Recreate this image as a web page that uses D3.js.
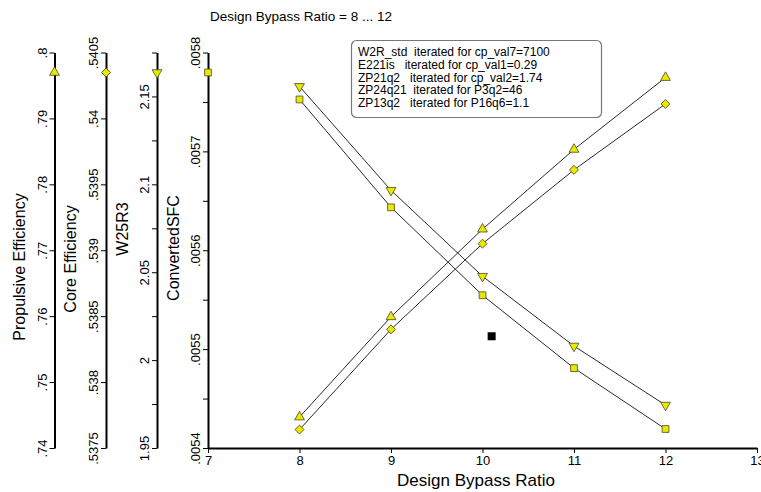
<!DOCTYPE html>
<html>
<head>
<meta charset="utf-8">
<script src="https://cdn.jsdelivr.net/npm/d3@7"></script>
<style>
  html, body { margin: 0; padding: 0; background: #fff; }
  svg { display: block; font-family: "Liberation Sans", Arial, sans-serif; }
</style>
</head>
<body>
<svg id="chart" width="761" height="492"></svg>
<script>
// Parameter study: design bypass ratio 8 ... 12
const bypassRatio   = [8, 9, 10, 11, 12];
const propulsiveEff = [0.7447, 0.7599, 0.7732, 0.7853, 0.7962];
const coreEff       = [0.53764, 0.53840, 0.53905, 0.53961, 0.54011];
const w25r3         = [2.1557, 2.0966, 2.0477, 2.0080, 1.9744];
const convertedSFC  = [0.0057525, 0.0056434, 0.0055545, 0.0054808, 0.0054192];

// design-point values shown on each axis
const refPropulsive = 0.79697;
const refCore       = 0.540348;
const refW25R3      = 2.1636;
const refSFC        = 0.0057798;

// single highlighted operating point (bypass ratio, ConvertedSFC)
const extraPoint = [10.1, 0.005513];

const xTicks      = [7, 8, 9, 10, 11, 12, 13];
const propTicks   = [0.74, 0.75, 0.76, 0.77, 0.78, 0.79, 0.80];
const coreTicks   = [0.5375, 0.538, 0.5385, 0.539, 0.5395, 0.54, 0.5405];
const w25Ticks    = [1.95, 1.975, 2.0, 2.025, 2.05, 2.075, 2.1, 2.125, 2.15, 2.175];
const w25Labels   = [1.95, 2.0, 2.05, 2.1, 2.15];
const sfcTicks    = [0.0054, 0.00545, 0.0055, 0.00555, 0.0056, 0.00565, 0.0057, 0.00575, 0.0058];
const sfcLabels   = [0.0054, 0.0055, 0.0056, 0.0057, 0.0058];

const legendLines = [
  "W2R_std  iterated for cp_val7=7100",
  "E221is   iterated for cp_val1=0.29",
  "ZP21q2   iterated for cp_val2=1.74",
  "ZP24q21  iterated for P3q2=46",
  "ZP13q2   iterated for P16q6=1.1"
];

const svg = d3.select("#chart");
const yBottom = 448, yTop = 52.5;
const xLeft = 208, xRight = 757;

const x = d3.scaleLinear().domain([7, 13]).range([xLeft, xRight]);
const yProp = d3.scaleLinear().domain([0.74, 0.80]).range([yBottom, yTop]);
const yCore = d3.scaleLinear().domain([0.5375, 0.5405]).range([yBottom, yTop]);
const yW25  = d3.scaleLinear().domain([1.95, 2.175]).range([yBottom, yTop]);
const ySFC  = d3.scaleLinear().domain([0.0054, 0.0058]).range([yBottom, yTop]);

const fmt = v => String(+v.toFixed(5)).replace(/^0\./, ".");

const fill = "#e8e800", edge = "#4a4a20";

// vertical axes: position, scale, ticks, labelled ticks, title, title centre
const axes = [
  { x: 54.5,  scale: yProp, ticks: propTicks, labels: propTicks, title: "Propulsive Efficiency", tx: 19,  ty: 267, ref: refPropulsive, sym: "up" },
  { x: 106,   scale: yCore, ticks: coreTicks, labels: coreTicks, title: "Core Efficiency",       tx: 70,  ty: 259, ref: refCore,       sym: "diamond" },
  { x: 157,   scale: yW25,  ticks: w25Ticks,  labels: w25Labels, title: "W25R3",                 tx: 122, ty: 229, ref: refW25R3,      sym: "down" },
  { x: 208,   scale: ySFC,  ticks: sfcTicks,  labels: sfcLabels, title: "ConvertedSFC",          tx: 173, ty: 248, ref: refSFC,        sym: "square" }
];

function symbolPath(kind) {
  if (kind === "up" || kind === "down") return d3.symbol().type(d3.symbolTriangle).size(42)();
  if (kind === "diamond") return d3.symbol().type(d3.symbolSquare).size(40)();
  return d3.symbol().type(d3.symbolSquare).size(46)();
}
function symbolRotate(kind) {
  if (kind === "down") return " rotate(180)";
  if (kind === "diamond") return " rotate(45)";
  return "";
}

axes.forEach(a => {
  const labelSet = new Set(a.labels.map(v => v.toFixed(5)));
  const g = svg.append("g").attr("transform", `translate(${a.x},0)`);
  g.call(d3.axisLeft(a.scale)
      .tickValues(a.ticks)
      .tickSize(5)
      .tickSizeOuter(0)
      .tickFormat(v => labelSet.has(v.toFixed(5)) ? fmt(v) : ""));
  g.select(".domain").attr("stroke", "#000").attr("stroke-width", 2);
  g.selectAll(".tick line").attr("stroke", "#000").attr("stroke-width", 1);
  g.selectAll(".tick text")
    .attr("transform", "rotate(-90)")
    .attr("x", 0).attr("y", -8).attr("dy", 0)
    .attr("text-anchor", "middle")
    .attr("font-size", 13)
    .attr("fill", "#000");

  svg.append("text")
    .attr("transform", `translate(${a.tx + 6},${a.ty}) rotate(-90)`)
    .attr("text-anchor", "middle")
    .attr("font-size", 16)
    .text(a.title);

  svg.append("path")
    .attr("d", symbolPath(a.sym))
    .attr("transform", `translate(${a.x},${a.scale(a.ref)})${symbolRotate(a.sym)}`)
    .attr("fill", fill).attr("stroke", edge).attr("stroke-width", 0.8);
});

// x axis
const gx = svg.append("g").attr("transform", `translate(0,${yBottom})`);
gx.call(d3.axisBottom(x).tickValues(xTicks).tickSize(5).tickSizeOuter(0).tickFormat(d3.format("d")));
gx.select(".domain").attr("stroke", "#000").attr("stroke-width", 2);
gx.selectAll(".tick line").attr("stroke", "#000");
gx.selectAll(".tick text").attr("font-size", 13).attr("fill", "#000").attr("y", 8);

svg.append("text")
  .attr("x", 476).attr("y", 486)
  .attr("text-anchor", "middle").attr("font-size", 17)
  .text("Design Bypass Ratio");

svg.append("text")
  .attr("x", 210).attr("y", 21)
  .attr("font-size", 13.5)
  .text("Design Bypass Ratio = 8 ... 12");

// series lines and markers
const series = [
  { values: propulsiveEff, scale: yProp, sym: "up" },
  { values: coreEff,       scale: yCore, sym: "diamond" },
  { values: w25r3,         scale: yW25,  sym: "down" },
  { values: convertedSFC,  scale: ySFC,  sym: "square" }
];

series.forEach(s => {
  const pts = bypassRatio.map((b, i) => [x(b), s.scale(s.values[i])]);
  svg.append("path")
    .attr("d", d3.line()(pts))
    .attr("fill", "none").attr("stroke", "#2a2a2a").attr("stroke-width", 1);
  svg.selectAll(null).data(pts).enter().append("path")
    .attr("d", symbolPath(s.sym))
    .attr("transform", d => `translate(${d[0]},${d[1]})${symbolRotate(s.sym)}`)
    .attr("fill", fill).attr("stroke", edge).attr("stroke-width", 0.8);
});

svg.append("rect")
  .attr("x", x(extraPoint[0]) - 4).attr("y", ySFC(extraPoint[1]) - 4)
  .attr("width", 8).attr("height", 8)
  .attr("fill", "#000");

// legend box
const lg = svg.append("g");
lg.append("rect")
  .attr("x", 351.5).attr("y", 40.5).attr("width", 250).attr("height", 77)
  .attr("rx", 5).attr("ry", 5)
  .attr("fill", "#fff").attr("stroke", "#777").attr("stroke-width", 1.2);
lg.selectAll("text").data(legendLines).enter().append("text")
  .attr("x", 358).attr("y", (d, i) => 56 + i * 12.8)
  .attr("font-size", 12)
  .style("white-space", "pre")
  .text(d => d);
</script>
</body>
</html>
